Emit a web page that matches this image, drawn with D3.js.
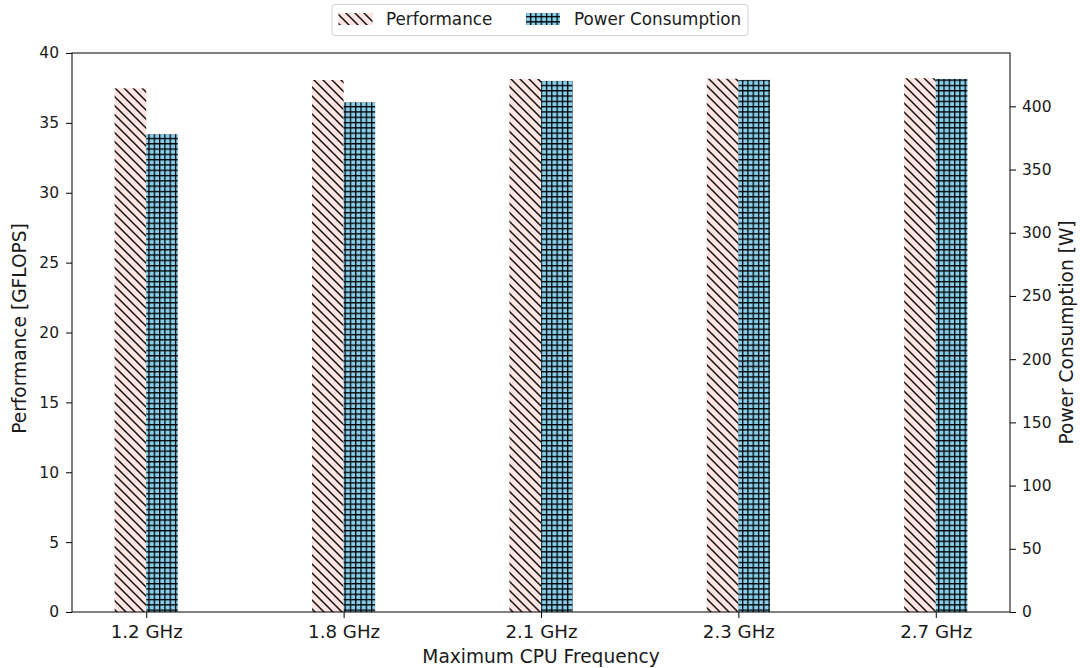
<!DOCTYPE html>
<html><head><meta charset="utf-8">
<script src="https://cdn.jsdelivr.net/npm/d3@7"></script>
<style>
body{margin:0;background:#fff;}
text{font-family:"DejaVu Sans",sans-serif;fill:#1a1a1a;}
</style></head>
<body><svg id="c" width="1080" height="668"></svg>
<script>
const categories = ["1.2 GHz","1.8 GHz","2.1 GHz","2.3 GHz","2.7 GHz"];
const performance = [37.47, 38.07, 38.14, 38.16, 38.19];
const power = [378, 403.2, 420.1, 420.9, 421.7];
const perfTicks = [0,5,10,15,20,25,30,35,40];
const powerTicks = [0,50,100,150,200,250,300,350,400];
const seriesNames = ["Performance","Power Consumption"];

const svg = d3.select("#c");
const L=72, R=1010, T=53, B=612;
const w = 0.16;
const x = d3.scaleLinear().domain([-0.376, 4.376]).range([L,R]);
const yL = d3.scaleLinear().domain([0,40]).range([B,T]);
const yR = d3.scaleLinear().domain([0,442.2]).range([B,T]);

const defs = svg.append("defs");
const p1 = defs.append("pattern").attr("id","hatchD").attr("patternUnits","userSpaceOnUse")
  .attr("width",9).attr("height",9);
p1.append("rect").attr("width",9).attr("height",9).attr("fill","#ffe4e1");
p1.append("path").attr("d","M-1,-1 L10,10 M-1,8 L1,10 M8,-1 L10,1").attr("stroke","#111").attr("stroke-width",1.5);
const gs=5.3;
const p2 = defs.append("pattern").attr("id","hatchG").attr("patternUnits","userSpaceOnUse")
  .attr("width",gs).attr("height",gs);
p2.append("rect").attr("width",gs).attr("height",gs).attr("fill","#87ceeb");
p2.append("path").attr("d",`M0,0.6 H${gs} M0.6,0 V${gs}`).attr("stroke","#000").attr("stroke-width",1.3);

// bars
svg.append("g").selectAll("rect").data(performance).join("rect")
  .attr("x",(d,i)=>x(i-w)).attr("width",(d,i)=>x(i)-x(i-w))
  .attr("y",d=>yL(d)).attr("height",d=>B-yL(d)).attr("fill","url(#hatchD)");
svg.append("g").selectAll("rect").data(power).join("rect")
  .attr("x",(d,i)=>x(i)).attr("width",(d,i)=>x(i+w)-x(i))
  .attr("y",d=>yR(d)).attr("height",d=>B-yR(d)).attr("fill","url(#hatchG)");

// axes
const ax = svg.append("g").attr("transform",`translate(0,${B})`)
  .call(d3.axisBottom(x).tickValues(d3.range(categories.length)).tickFormat(i=>categories[i]).tickSize(6).tickSizeOuter(0).tickPadding(7));
const al = svg.append("g").attr("transform",`translate(${L},0)`)
  .call(d3.axisLeft(yL).tickValues(perfTicks).tickSize(6).tickSizeOuter(0).tickPadding(7));
const ar = svg.append("g").attr("transform",`translate(${R},0)`)
  .call(d3.axisRight(yR).tickValues(powerTicks).tickSize(6).tickSizeOuter(0).tickPadding(6));
ax.selectAll("text").attr("font-size",18.2);
al.selectAll("text").attr("font-size",15.5);
ar.selectAll("text").attr("font-size",15.5);
[ax,al,ar].forEach(g=>{
  g.select(".domain").remove();
  g.selectAll("text").attr("font-family","DejaVu Sans").attr("fill","#1a1a1a");
  g.selectAll("line").attr("stroke","#000");
});
svg.append("rect").attr("x",L).attr("y",T).attr("width",R-L).attr("height",B-T)
  .attr("fill","none").attr("stroke","#000").attr("stroke-width",1);

const lfs=18.6;
svg.append("text").attr("x",(L+R)/2).attr("y",663).attr("text-anchor","middle").attr("font-size",lfs).text("Maximum CPU Frequency");
svg.append("text").attr("transform",`translate(26,${(T+B)/2 - 4}) rotate(-90)`).attr("text-anchor","middle").attr("font-size",lfs).text("Performance [GFLOPS]");
svg.append("text").attr("transform",`translate(1073,${(T+B)/2}) rotate(-90)`).attr("text-anchor","middle").attr("font-size",lfs).text("Power Consumption [W]");

// legend
const lg = svg.append("g");
lg.append("rect").attr("x",332).attr("y",4.5).attr("width",416).attr("height",31).attr("rx",3)
  .attr("fill","#fff").attr("stroke","#d0d0d0");
lg.append("rect").attr("x",338.5).attr("y",13).attr("width",34).attr("height",12).attr("fill","url(#hatchD)");
lg.append("rect").attr("x",526).attr("y",13).attr("width",34).attr("height",12).attr("fill","url(#hatchG)");
lg.append("text").attr("x",386).attr("y",25).attr("font-size",16.8).text(seriesNames[0]);
lg.append("text").attr("x",574).attr("y",25).attr("font-size",16.8).text(seriesNames[1]);
</script></body></html>
